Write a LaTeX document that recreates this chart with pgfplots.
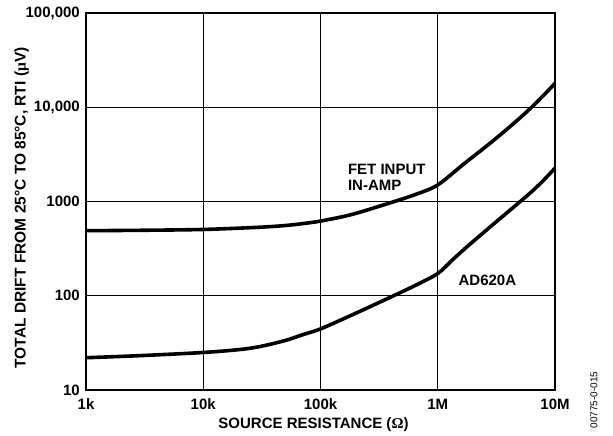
\documentclass[border=0pt]{standalone}
\usepackage{fontspec}
\setmainfont{Liberation Sans}
\newfontfamily\symf{Liberation Serif}
\usepackage{pgfplots}
\pgfplotsset{compat=1.18}

\begin{document}
\begin{tikzpicture}
\begin{axis}[
    name=ax,
    xmode=log, ymode=log,
    scale only axis,
    width=469pt, height=377pt,
    xmin=1e3, xmax=1e7, ymin=10, ymax=1e5,
    xtick={1e3,1e4,1e5,1e6,1e7},
    xticklabels={1k,10k,100k,1M,10M},
    ytick={10,100,1000,10000,100000},
    yticklabels={10,100,1000,{10,000},{100,000}},
    xminorticks=false, yminorticks=false,
    major tick length=0pt,
    grid=major,
    major grid style={black, line width=1pt},
    axis line style={line width=2pt},
    tick label style={font=\fontsize{15}{18}\selectfont\bfseries, inner sep=0pt},
    xticklabel style={anchor=base, yshift=-19.3pt},
    yticklabel style={anchor=east, xshift=-6pt},
    xlabel={SOURCE RESISTANCE ({\symf Ω})},
    ylabel={TOTAL DRIFT FROM 25°C TO 85°C, RTI ({\symf μ}V)},
    every axis x label/.style={at={(axis description cs:0.485,-0.1034)}, anchor=base,
        font=\fontsize{15}{18}\selectfont\bfseries, inner sep=0pt},
    every axis y label/.style={at={(axis description cs:-0.129,0.483)}, anchor=base, rotate=90,
        font=\fontsize{15.5}{18}\selectfont\bfseries, inner sep=0pt},
    clip=false,
]
% FET input in-amp
\addplot[black, line width=3.6pt, smooth, tension=0.5] coordinates {
    (1e3,490) (3e3,495) (1e4,505) (3e4,533) (5e4,556) (7e4,582) (1e5,620)
    (1.8e5,722) (3.5e5,925) (6.5e5,1190) (1e6,1500) (1.68e6,2520) (2.84e6,4220)
    (4.5e6,6830) (6.24e6,9860) (8.1e6,13620) (1e7,17940)
};
% AD620A
\addplot[black, line width=3.6pt, smooth, tension=0.5] coordinates {
    (1e3,22) (3e3,23.2) (1e4,25) (2e4,26.8) (3e4,28.8) (5e4,33.5) (7e4,38.5) (1e5,44.5)
    (1.8e5,61.5) (4.2e5,100) (6.7e5,132) (1e6,172) (1.32e6,237) (1.83e6,342)
    (3.45e6,670) (5.83e6,1163) (7.6e6,1578) (1e7,2257)
};
\node[anchor=west, align=left, inner sep=0pt, font=\fontsize{15}{16}\selectfont\bfseries]
    at (axis cs:1.71e5,1820) {FET INPUT\\IN-AMP};
\node[anchor=west, inner sep=0pt, font=\fontsize{15}{18}\selectfont\bfseries]
    at (axis cs:1.5e6,147) {AD620A};
\node[rotate=90, inner sep=0pt, font=\fontsize{10}{12}\selectfont]
    at (axis description cs:1.0832,-0.0265) {00775-0-015};
\end{axis}
\path (ax.south west) ++(-86pt,-46pt) rectangle ++(613pt,436pt);
\end{tikzpicture}
\end{document}
